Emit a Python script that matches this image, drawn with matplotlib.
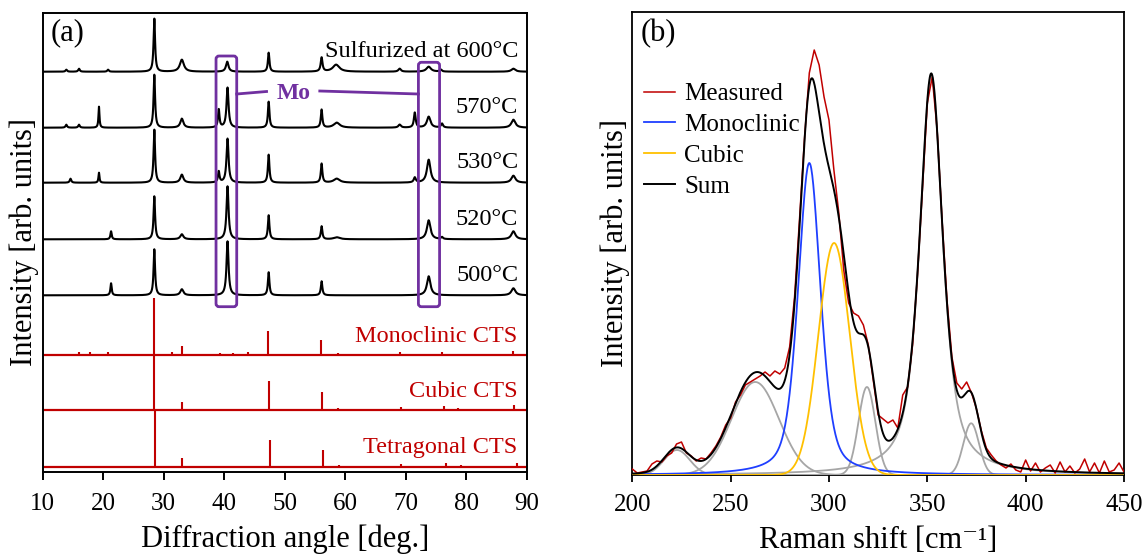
import numpy as np
import matplotlib
matplotlib.use('Agg')
from matplotlib import pyplot as plt
from matplotlib.patches import FancyBboxPatch

plt.rcParams['font.family'] = ['Liberation Serif', 'DejaVu Serif']

# ---- (a) XRD: peaks as (2theta, height, fwhm) ----
xrd_labels = ['Sulfurized at 600°C', '570°C', '530°C', '520°C', '500°C']
xrd_600 = [(13.9, 2, 0.3), (16.0, 3, 0.3), (20.8, 2, 0.3), (28.45, 53, 0.3), (33.0, 12, 0.8),
           (40.5, 10, 0.5), (47.35, 19, 0.3), (56.1, 14, 0.35), (58.5, 7, 1.3), (69.0, 3, 0.5),
           (73.8, 5, 0.9), (75.8, 2, 0.4), (87.8, 3, 0.8)]
xrd_570 = [(13.9, 3, 0.3), (16.0, 3, 0.3), (19.3, 21, 0.2), (28.45, 53, 0.3), (33.0, 9, 0.6),
           (39.1, 18, 0.3), (40.55, 40, 0.4), (47.35, 26, 0.3), (56.1, 18, 0.3), (58.6, 5, 1.2),
           (69.0, 3, 0.5), (71.5, 15, 0.35), (73.8, 11, 0.7), (76.0, 4, 0.4), (87.8, 8, 0.8)]
xrd_530 = [(14.6, 4, 0.3), (19.3, 10, 0.2), (28.45, 53, 0.3), (33.0, 8, 0.6), (39.1, 11, 0.3),
           (40.55, 44, 0.4), (47.35, 28, 0.3), (56.1, 19, 0.3), (58.6, 4, 1.2), (71.5, 5, 0.4),
           (73.8, 23, 0.7), (87.8, 7, 0.8)]
xrd_520 = [(21.3, 8, 0.25), (28.45, 43, 0.3), (33.0, 5, 0.6), (40.55, 53, 0.4), (47.35, 24, 0.3),
           (56.1, 13, 0.3), (58.6, 2, 1.2), (73.8, 19, 0.7), (76.0, 2, 0.4), (87.8, 8, 0.8)]
xrd_500 = [(21.3, 12, 0.25), (28.45, 46, 0.3), (33.0, 6, 0.6), (40.55, 54, 0.4), (47.35, 23, 0.3),
           (56.1, 14, 0.3), (73.8, 19, 0.7), (87.8, 7, 0.8)]
xrd_traces = [xrd_600, xrd_570, xrd_530, xrd_520, xrd_500]
xrd_offsets = [400, 344, 289, 232.4, 176.4]

# reference patterns (2theta, relative height)
ref_labels = ['Monoclinic CTS', 'Cubic CTS', 'Tetragonal CTS']
ref_mono = [(16.0, 3), (17.9, 3), (20.8, 3), (28.45, 57), (31.3, 3), (33.0, 9), (39.25, 2),
            (41.5, 2), (43.9, 3), (47.3, 24), (56.0, 15), (58.8, 2), (69.0, 3), (76.0, 3), (87.7, 4)]
ref_cubic = [(28.45, 56), (33.0, 8), (47.33, 29), (56.12, 18), (58.8, 2), (69.2, 3),
             (76.4, 4), (78.7, 1.5), (87.9, 5)]
ref_tetra = [(28.5, 57), (33.1, 9), (47.5, 27), (56.3, 17), (58.9, 2), (69.3, 3),
             (76.6, 4), (79.1, 2), (88.35, 4)]
ref_patterns = [ref_mono, ref_cubic, ref_tetra]
ref_offsets = [117, 61.7, 5]

mo_windows = [(38.65, 42.07), (72.1, 75.6)]

# ---- (b) Raman: fitted components (center, height, fwhm, lorentz fraction) ----
mono_peak = (290.0, 312, 13.5, 0.45)
cubic_peak = (302.6, 232, 18.8, 0.0)
other_peaks = [(222.7, 25, 15.3, 0.0), (262.5, 93, 28.3, 0.0), (319.3, 88, 10.1, 0.0),
               (352.0, 400, 14.0, 0.7), (372.3, 51.7, 9.4, 0.0)]

measured_shift = np.arange(200, 450.1, 2.5)
measured_counts = [6, 2, 3, 4, 11, 14, 13, 19, 22, 31,
                   33, 22, 19, 14, 17, 16, 22, 29, 38, 50,
                   57, 73, 80, 90, 93, 96, 99, 103, 99, 104,
                   101, 107, 128, 178, 255, 335, 402, 425, 410, 378,
                   355, 305, 262, 205, 172, 162, 159, 150, 130, 95,
                   60, 56, 52, 55, 47, 80, 88, 130, 200, 285,
                   372, 398, 345, 255, 175, 118, 92, 86, 93, 82,
                   66, 44, 27, 20, 14, 10, 7, 11, 5, 3,
                   15, 4, 12, 3, 7, 10, 2, 13, 3, 9,
                   2, 6, 16, 3, 12, 2, 14, 3, 5, 12, 3]


def xrd_profile(x, peaks):
    """ Сумма лоренцевых пиков для дифрактограммы
    """
    y = np.zeros_like(x)
    for pos, height, fwhm in peaks:
        y += height / (1 + 4 * (x - pos) ** 2 / fwhm ** 2)
    return y


def pseudo_voigt(x, peak):
    center, height, fwhm, eta = peak
    d2 = 4 * (x - center) ** 2 / fwhm ** 2
    return height * (eta / (1 + d2) + (1 - eta) * np.exp(-np.log(2) * d2))


def draw_xrd(ax):
    two_theta = np.linspace(10, 90, 8001)
    for peaks, offset, label in zip(xrd_traces, xrd_offsets, xrd_labels):
        ax.plot(two_theta, offset + xrd_profile(two_theta, peaks), color='k', lw=1.5)
        ax.text(88.6, offset + 14.4, label, ha='right', va='baseline', fontsize=17.5)

    red = '#C00000'
    for peaks, offset, label in zip(ref_patterns, ref_offsets, ref_labels):
        ax.axhline(offset, color=red, lw=1.6)
        pos = [p for p, h in peaks]
        tops = [offset + h for p, h in peaks]
        ax.vlines(pos, offset, tops, color=red, lw=1.5)
        ax.text(88.45, offset + 13.2, label, ha='right', va='baseline', fontsize=17.5, color=red)

    purple = '#7030A0'
    box_tops = [415.7, 409.4]
    for (x0, x1), top in zip(mo_windows, box_tops):
        box = FancyBboxPatch((x0, 165), x1 - x0, top - 165,
                             boxstyle='round,pad=0,rounding_size=0.5', mutation_aspect=6.05,
                             fill=False, ec=purple, lw=2.0, zorder=4)
        ax.add_patch(box)
    ax.plot([mo_windows[0][1], 47.0], [377.7, 380.2], color=purple, lw=2.0)
    ax.plot([55.8, mo_windows[1][0]], [380.7, 377.7], color=purple, lw=2.0)
    ax.text(51.4, 378.4, 'Mo', ha='center', va='center', fontsize=17, fontweight='bold', color=purple)

    ax.set_xlim(10, 90)
    ax.set_ylim(0, 458.7)
    ax.set_xticks(np.arange(10, 91, 10))
    ax.set_yticks([])
    ax.tick_params(axis='x', direction='out', length=6, width=1.4, labelsize=18, pad=9)
    for s in ax.spines.values():
        s.set_linewidth(1.4)
    ax.set_xlabel('Diffraction angle [deg.]', fontsize=22, labelpad=7)
    ax.set_ylabel('Intensity [arb. units]', fontsize=22, labelpad=3)
    ax.text(0.016, 0.988, '(a)', transform=ax.transAxes, ha='left', va='top', fontsize=22)


def draw_raman(ax):
    shift = np.linspace(200, 450, 1001)
    components = [pseudo_voigt(shift, p) for p in other_peaks]
    mono = pseudo_voigt(shift, mono_peak)
    cubic = pseudo_voigt(shift, cubic_peak)
    total = mono + cubic + np.sum(components, axis=0)

    for comp in components:
        ax.plot(shift, comp, color='#A6A6A6', lw=1.3, zorder=3)
    l_mono, = ax.plot(shift, mono, color='#1F3FFF', lw=1.3, zorder=3.1, label='Monoclinic')
    l_cub, = ax.plot(shift, cubic, color='#FFC000', lw=1.3, zorder=3.2, label='Cubic')
    l_meas, = ax.plot(measured_shift, measured_counts, color='#C00000', lw=1.1, zorder=3.3,
                      label='Measured')
    l_sum, = ax.plot(shift, total, color='k', lw=1.4, zorder=3.4, label='Sum')

    ax.legend(handles=[l_meas, l_mono, l_cub, l_sum], loc='upper left',
              bbox_to_anchor=(0.024, 0.847), frameon=False, fontsize=18, borderpad=0,
              borderaxespad=0, handlelength=1.25, handletextpad=0.35, labelspacing=0.33)

    ax.set_xlim(200, 450)
    ax.set_ylim(0, 463)
    ax.set_xticks(np.arange(200, 451, 50))
    ax.set_yticks([])
    ax.tick_params(axis='x', direction='out', length=5, width=1.3, labelsize=18, pad=9)
    for s in ax.spines.values():
        s.set_linewidth(1.3)
    ax.set_xlabel('Raman shift [cm⁻¹]', fontsize=22, labelpad=7)
    ax.set_ylabel('Intensity [arb. units]', fontsize=22, labelpad=2)
    ax.text(0.016, 0.985, '(b)', transform=ax.transAxes, ha='left', va='top', fontsize=22)


def main():
    fig = plt.figure(figsize=(11.46, 5.58), dpi=100)
    ax_a = fig.add_axes([0.03726, 0.15466, 0.42234, 0.82204])
    ax_b = fig.add_axes([0.55174, 0.14875, 0.42906, 0.82975])
    draw_xrd(ax_a)
    draw_raman(ax_b)
    fig.savefig('out.png', dpi=100)


if __name__ == '__main__':
    main()
